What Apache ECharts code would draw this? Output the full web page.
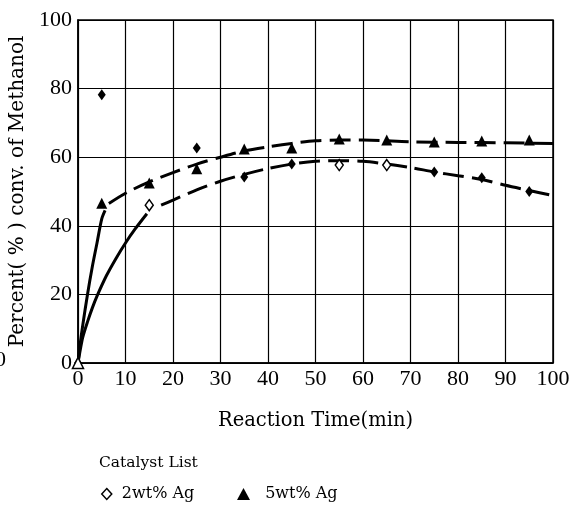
<!DOCTYPE html>
<html><head><meta charset="utf-8">
<script src="https://cdn.jsdelivr.net/npm/echarts@6/dist/echarts.min.js"></script>
<style>html,body{margin:0;padding:0;background:#fff}#c{width:581px;height:507px}</style>
</head><body><div id="c"></div>
<script>
// ---- data ----
const xTicks = [0,10,20,30,40,50,60,70,80,90,100];
const yTicks = [0,20,40,60,80,100];
const times = [0,5,15,25,35,45,55,65,75,85,95];
const ag2 = [0,78.2,46,62.7,54.2,58,57.7,57.7,55.7,54,50];
const ag5 = [0,46.6,52.5,56.6,62.4,62.7,65.3,65,64.4,64.7,65];
const ag2Hollow = [15,55,65];
const ag5Hollow = [0];
// fitted curves
const ag5FitSolidX = [0,0.5,1,2,3,4,5,5.7];
const ag5FitSolidY = [0,6,11,20,28,35,42,44.5];
const ag5FitDashX = [6.5,10,15,20,25,30,35,40,45,50,55,60,70,80,90,100];
const ag5FitDashY = [46.5,49.5,52.8,55.5,58,60,61.8,63,64,64.8,65,65,64.5,64.3,64.2,64];
const ag2FitSolidX = [0,0.5,1,2,3,4,6,8,10,12,14.5];
const ag2FitSolidY = [0,4,7.5,12,16,19.5,25.5,30.5,35,39,43.5];
const ag2FitDashX = [17.5,20,25,30,35,40,45,50,55,60,65,70,75,80,85,90,95,100];
const ag2FitDashY = [46,47.5,50.5,53,55,56.7,58,58.8,59,58.8,58,57,55.7,54.6,53.5,51.8,50.3,48.8];
const seriesNames = ['2wt% Ag','5wt% Ag'];
const legendTitle = 'Catalyst List';
const xTitle = 'Reaction Time(min)';
const yTitle = 'Percent( % ) conv. of Methanol';

const zip = (xs, ys) => xs.map((x,i)=>[x, ys[i]]);
const F = 'Liberation Serif';
const F2 = 'DejaVu Serif';
const chart = echarts.init(document.getElementById('c'), null, {renderer:'canvas'});
const curve = (d, dashed) => ({
  type:'line', data:d, smooth:0.3, symbol:'none', silent:true,
  lineStyle:{color:'#000', width:3, type: dashed ? [21,8] : 'solid'}
});
const hollow = {color:'#fff', borderColor:'#000', borderWidth:1.5, opacity:1};
const solid = {color:'#000', opacity:1};
const legendText = {fontFamily:F2, fontSize:16, color:'#000'};
chart.setOption({
  animation:false,
  backgroundColor:'#fff',
  grid:{left:78, right:28, top:20, bottom:144, outerBoundsMode:'none', containLabel:false,
    show:true, borderColor:'#000', borderWidth:1.5},
  title:{text:legendTitle, left:99, top:455, padding:0,
    textStyle:{fontFamily:F2, fontSize:15.5, fontWeight:'normal', color:'#000'}},
  legend:[
    {left:101, top:486, padding:0, itemWidth:10, itemHeight:11, itemGap:8, textStyle:legendText,
      formatter:n=>' '+n,
      data:[{name:seriesNames[0], icon:'diamond', itemStyle:hollow}]},
    {left:237, top:486, padding:0, itemWidth:13, itemHeight:12, textStyle:legendText,
      formatter:n=>'  '+n,
      data:[{name:seriesNames[1], icon:'triangle', itemStyle:solid}]}
  ],
  xAxis:{type:'value', min:0, max:100, interval:10,
    name:xTitle, nameLocation:'middle', nameGap:48,
    nameTextStyle:{fontFamily:F2, fontSize:19.5, color:'#000'},
    axisLine:{lineStyle:{color:'#000', width:1.5}}, axisTick:{show:false},
    axisLabel:{fontFamily:F, fontSize:22, color:'#000', margin:5,
      formatter:v=>xTicks.includes(v)?String(v):''},
    splitLine:{lineStyle:{color:'#000', width:1.2}}},
  yAxis:{type:'value', min:0, max:100, interval:20,
    name:yTitle, nameLocation:'middle', nameGap:44,
    nameTextStyle:{fontFamily:F2, fontSize:20, color:'#000'},
    axisLine:{lineStyle:{color:'#000', width:1.5}}, axisTick:{show:false},
    axisLabel:{fontFamily:F, fontSize:22, color:'#000', margin:6,
      formatter:v=>yTicks.includes(v)?String(v):''},
    splitLine:{lineStyle:{color:'#000', width:1.2}}},
  series:[
    curve(zip(ag5FitSolidX, ag5FitSolidY), false),
    curve(zip(ag5FitDashX, ag5FitDashY), true),
    curve(zip(ag2FitSolidX, ag2FitSolidY), false),
    curve(zip(ag2FitDashX, ag2FitDashY), true),
    {type:'scatter', name:seriesNames[0], symbol:'diamond', symbolSize:[8,11], z:5,
      data: times.map((t,i)=>({value:[t, ag2[i]], itemStyle: ag2Hollow.includes(t) ? hollow : solid})),
      itemStyle:solid},
    {type:'scatter', name:seriesNames[1], symbol:'triangle', symbolSize:11, z:6,
      data: times.map((t,i)=>({value:[t, ag5[i]], itemStyle: ag5Hollow.includes(t) ? hollow : solid})),
      itemStyle:solid}
  ],
  graphic:[{type:'text', left:-5, top:349, style:{text:'0', font:'22px "Liberation Serif"', fill:'#000'}}]
});
</script></body></html>
